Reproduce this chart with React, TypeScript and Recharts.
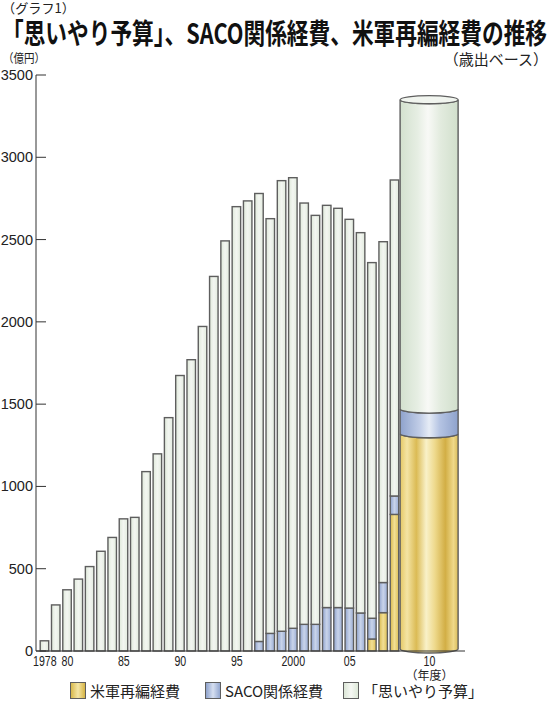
import React from 'react';
import { BarChart, Bar, XAxis, YAxis } from 'recharts';

const years = [
  1978, 1979, 1980, 1981, 1982, 1983, 1984, 1985, 1986, 1987, 1988,
  1989, 1990, 1991, 1992, 1993, 1994, 1995, 1996, 1997, 1998, 1999,
  2000, 2001, 2002, 2003, 2004, 2005, 2006, 2007, 2008, 2009, 2010,
];

// 「思いやり予算」 (億円)
const omoiyari = [
  62, 280, 372, 437, 513, 606, 690, 803, 812, 1090, 1198,
  1418, 1674, 1770, 1972, 2276, 2492, 2700, 2735, 2722, 2520, 2738,
  2738, 2560, 2485, 2444, 2426, 2362, 2311, 2161, 2071, 1920, 1880,
];

// SACO関係経費
const saco = [
  0, 0, 0, 0, 0, 0, 0, 0, 0, 0, 0,
  0, 0, 0, 0, 0, 0, 0, 0, 58, 107, 120,
  138, 162, 162, 264, 264, 261, 231, 126, 183, 112, 150,
];

// 米軍再編経費
const realign = [
  0, 0, 0, 0, 0, 0, 0, 0, 0, 0, 0,
  0, 0, 0, 0, 0, 0, 0, 0, 0, 0, 0,
  0, 0, 0, 0, 0, 0, 0, 73, 233, 830, 1320,
];

const yTicks = [0, 500, 1000, 1500, 2000, 2500, 3000, 3500];

const xLabels: Record<number, string> = {
  1978: '1978', 1980: '80', 1985: '85', 1990: '90',
  1995: '95', 2000: '2000', 2005: '05', 2010: '10',
};

const legendItems = [
  { key: 'realign', label: '米軍再編経費', x: 70 },
  { key: 'saco', label: 'SACO関係経費', x: 205 },
  { key: 'omoiyari', label: '「思いやり予算」', x: 343 },
];

const data = years.map((year, i) => ({
  year,
  realign: realign[i],
  saco: saco[i],
  omoiyari: omoiyari[i],
}));

// layout
const AXIS_X = 36;
const PLOT_W = 429;
const PAD_L = 3.2;
const PAD_R = 53.2;
const BAND = (PLOT_W - PAD_L - PAD_R) / years.length;
const BAR_SIZE = 8.5;
const CYL_W = 58;
const LATEST = 2010;
const EDGE = '#5e5e5e';
const JP = '"Noto Sans CJK JP", "Noto Sans", sans-serif';
const NUM = '"Liberation Sans", Arial, sans-serif';

function makeShape(kind: string) {
  return (props: any) => {
    const { x, y, width, height, payload } = props;
    if (!height || height <= 0) return <g />;
    if (payload.year !== LATEST) {
      return (
        <rect x={x} y={y} width={width} height={height}
          fill={`url(#flat-${kind})`} stroke={EDGE} strokeWidth={1.4} />
      );
    }
    // the latest year is drawn as a wide cylinder
    const L = x - (BAND - width) / 2;
    const R = L + CYL_W;
    const rx = CYL_W / 2;
    const ry = 4;
    const yb = kind === 'realign' ? y + height - 2 : y + height;
    const d = `M${L},${y} A${rx},${ry} 0 0 0 ${R},${y} L${R},${yb} A${rx},${ry} 0 0 1 ${L},${yb} Z`;
    return (
      <g>
        <path d={d} fill={`url(#cyl-${kind})`} stroke={EDGE} strokeWidth={1.4} />
        {kind === 'omoiyari' && (
          <ellipse cx={L + rx} cy={y} rx={rx} ry={ry} fill="#f1f5ef" stroke={EDGE} strokeWidth={1.2} />
        )}
      </g>
    );
  };
}

function YTick(props: any) {
  const { y, payload } = props;
  return (
    <g>
      <text x={AXIS_X - 3} y={y + 5} textAnchor="end" fontSize={14.5} fontFamily={NUM} fill="#222">
        {payload.value}
      </text>
      <line x1={AXIS_X} x2={AXIS_X + 10} y1={y} y2={y} stroke="#333" strokeWidth={1} />
    </g>
  );
}

function XTick(props: any) {
  const { x, y, payload } = props;
  const label = xLabels[payload.value];
  if (!label) return <g />;
  const isLatest = payload.value === LATEST;
  const cx = isLatest ? x - BAND / 2 + CYL_W / 2 : x;
  return (
    <g>
      <text x={cx} y={y + 15} textAnchor="middle" fontSize={14.5} fontFamily={NUM} fill="#222"
        textLength={label.length * 5.9} lengthAdjust="spacingAndGlyphs">
        {label}
      </text>
      {isLatest && (
        <text x={cx} y={y + 29} textAnchor="middle" fontSize={12} fontFamily={JP} fill="#222">
          （年度）
        </text>
      )}
    </g>
  );
}

function Grad({ id, stops }: { id: string; stops: [number, string][] }) {
  return (
    <linearGradient id={id} x1="0" y1="0" x2="1" y2="0">
      {stops.map(([o, c]) => <stop key={o} offset={o} stopColor={c} />)}
    </linearGradient>
  );
}

const swatchBg: Record<string, string> = {
  realign: 'linear-gradient(90deg,#d8b94c,#f5e6a6 50%,#d6b445)',
  saco: 'linear-gradient(90deg,#8ea2cc,#d6dff0 50%,#93a7d0)',
  omoiyari: 'linear-gradient(90deg,#dbe6d6,#f6f8f4 50%,#dde8d8)',
};

export default function App() {
  return (
    <div style={{ position: 'absolute', left: 0, top: 0, width: 550, height: 701, background: '#fff', overflow: 'hidden' }}>
      <div style={{ position: 'absolute', left: 0, top: 0 }}>
        <BarChart width={550} height={701} data={data} barSize={BAR_SIZE}
          margin={{ top: 75, right: 85, bottom: 0, left: 0 }}>
          <defs>
            <Grad id="flat-omoiyari" stops={[[0, '#dfe9da'], [0.5, '#f3f6f1'], [1, '#e2ebde']]} />
            <Grad id="flat-saco" stops={[[0, '#8fa3cd'], [0.5, '#c9d4ea'], [1, '#9aadd4']]} />
            <Grad id="flat-realign" stops={[[0, '#d8b94c'], [0.5, '#f2df95'], [1, '#dcbf55']]} />
            <Grad id="cyl-omoiyari" stops={[[0, '#d3e1ce'], [0.3, '#e6eee3'], [0.48, '#f8f9f6'], [0.7, '#e2ebde'], [1, '#d1dfcc']]} />
            <Grad id="cyl-saco" stops={[[0, '#8ea2cc'], [0.35, '#c3cfe8'], [0.5, '#e6ecf6'], [0.68, '#b5c4e3'], [1, '#8ea2cc']]} />
            <Grad id="cyl-realign" stops={[[0, '#e5c865'], [0.12, '#f4e4a4'], [0.28, '#dbbb55'], [0.45, '#f9f1c8'], [0.6, '#eed98c'], [0.78, '#d2ae45'], [0.92, '#efd98a'], [1, '#d9bc5a']]} />
          </defs>
          <XAxis dataKey="year" type="category" interval={0} height={50}
            padding={{ left: PAD_L, right: PAD_R }}
            axisLine={{ stroke: '#333', strokeWidth: 1 }} tickLine={false}
            tickSize={0} tickMargin={0} tick={<XTick />} />
          <YAxis width={AXIS_X} domain={[0, 3500]} ticks={yTicks} interval={0}
            axisLine={{ stroke: '#333', strokeWidth: 1 }} tickLine={false}
            tickSize={0} tick={<YTick />} />
          <Bar dataKey="realign" name="米軍再編経費" stackId="a" isAnimationActive={false} shape={makeShape('realign')} />
          <Bar dataKey="saco" name="SACO関係経費" stackId="a" isAnimationActive={false} shape={makeShape('saco')} />
          <Bar dataKey="omoiyari" name="「思いやり予算」" stackId="a" isAnimationActive={false} shape={makeShape('omoiyari')} />
        </BarChart>
      </div>
      <svg width={550} height={701} style={{ position: 'absolute', left: 0, top: 0, pointerEvents: 'none' }}>
        <text x={2} y={13} fontSize={13} fontFamily={JP} fill="#222" textLength={73} lengthAdjust="spacingAndGlyphs">（グラフ1）</text>
        <text x={2} y={44} fontSize={28} fontWeight={700} fontFamily={JP} fill="#111" textLength={545} lengthAdjust="spacingAndGlyphs">
          「思いやり予算」、SACO関係経費、米軍再編経費の推移
        </text>
        <text x={3} y={63} fontSize={12} fontFamily={JP} fill="#222" textLength={42} lengthAdjust="spacingAndGlyphs">（億円）</text>
        <text x={548} y={65} fontSize={15} fontFamily={JP} fill="#222" textAnchor="end">（歳出ベース）</text>
      </svg>
      {legendItems.map((it) => (
        <div key={it.key} style={{ position: 'absolute', left: it.x, top: 682, display: 'flex', alignItems: 'center', whiteSpace: 'nowrap' }}>
          <div style={{ width: 16, height: 17, background: swatchBg[it.key], border: `1.5px solid ${EDGE}`, boxSizing: 'border-box' }} />
          <span style={{ marginLeft: 4, fontSize: 15, lineHeight: '17px', fontFamily: JP, color: '#222' }}>{it.label}</span>
        </div>
      ))}
    </div>
  );
}
